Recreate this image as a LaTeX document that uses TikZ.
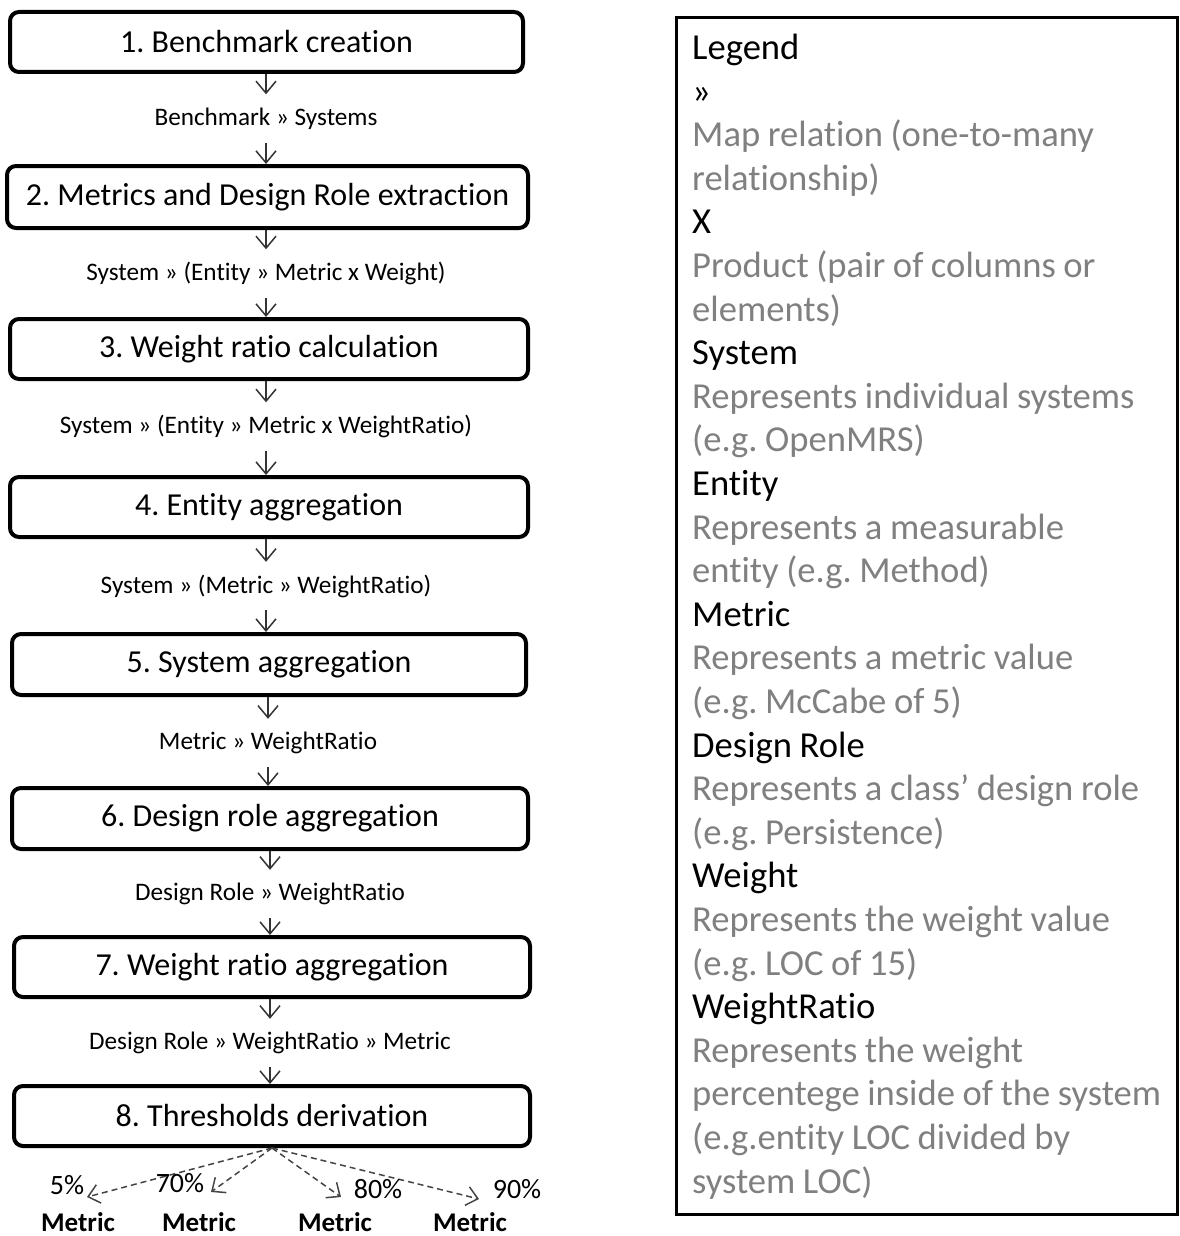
\documentclass[tikz,border=0pt]{standalone}
\usepackage{fontspec}
\setmainfont{Carlito}[Ligatures=NoCommon]
\frenchspacing
\usetikzlibrary{arrows.meta}
\definecolor{legendgray}{HTML}{808080}
\definecolor{arrowgray}{HTML}{333333}
\definecolor{dashgray}{HTML}{444444}
\begin{document}
\begin{tikzpicture}[x=1pt,y=-1pt,
  stepbox/.style={draw=black, line width=4pt, rounded corners=9pt, inner sep=0pt,
    minimum height=60pt, font=\fontsize{32}{38}\selectfont},
  flowlabel/.style={inner sep=0pt, minimum height=48pt, font=\fontsize{25.2}{30}\selectfont},
  flowarrow/.style={draw=arrowgray, line width=1.5pt, -{Straight Barb[length=12pt,width=20pt]}},
  dasharrow/.style={draw=dashgray, line width=1.5pt, dash pattern=on 6pt off 4pt,
    -{Straight Barb[length=11pt,width=19pt]}},
  pct/.style={inner sep=0pt, font=\fontsize{28}{32}\selectfont},
  metric/.style={inner sep=0pt, font=\fontsize{27}{32}\selectfont\bfseries},
  legendtext/.style={inner sep=0pt, align=left, text width=480pt,
    font=\fontsize{36.6}{43.6}\selectfont}
]
\useasboundingbox (0,0) rectangle (1179,1236);

% process steps
\node[stepbox, minimum width=513pt] (b1) at (266.5,42)  {1. Benchmark creation};
\node[stepbox, minimum width=521pt, minimum height=62pt] (b2) at (267.5,197) {2. Metrics and Design Role extraction};
\node[stepbox, minimum width=518pt] (b3) at (269,349)   {3. Weight ratio calculation};
\node[stepbox, minimum width=518pt] (b4) at (269,507)   {4. Entity aggregation};
\node[stepbox, minimum width=514pt, minimum height=61pt] (b5) at (269,664.5) {5. System aggregation};
\node[stepbox, minimum width=516pt, minimum height=61pt] (b6) at (270,818.5) {6. Design role aggregation};
\node[stepbox, minimum width=516pt] (b7) at (272,967)   {7. Weight ratio aggregation};
\node[stepbox, minimum width=516pt] (b8) at (272,1116)  {8. Thresholds derivation};

% data passed between steps
\node[flowlabel] (l1) at (266,118.5) {Benchmark » Systems};
\node[flowlabel] (l2) at (266,273.5) {System » (Entity » Metric x Weight)};
\node[flowlabel] (l3) at (266,426.5) {System » (Entity » Metric x WeightRatio)};
\node[flowlabel] (l4) at (266,586)   {System » (Metric » WeightRatio)};
\node[flowlabel] (l5) at (268,743)   {Metric » WeightRatio};
\node[flowlabel] (l6) at (270,894)   {Design Role » WeightRatio};
\node[flowlabel] (l7) at (270,1043)  {Design Role » WeightRatio » Metric};

\foreach \s/\l/\n in {b1/l1/b2, b2/l2/b3, b3/l3/b4, b4/l4/b5, b5/l5/b6, b6/l6/b7, b7/l7/b8}{
  \draw[flowarrow] (\l.north |- \s.south) -- (\l.north);
  \draw[flowarrow] (\l.south) -- (\l.south |- \n.north);
}

% derived thresholds
\coordinate (t5)  at (87,1197);
\coordinate (t70) at (211,1192);
\coordinate (t80) at (341,1197);
\coordinate (t90) at (479,1199);
\foreach \t in {t5,t70,t80,t90}{
  \draw[dasharrow] (b8.south) -- (\t);
}
\node[pct] (p5)  at (67,1185)  {5\%};
\node[pct] (p70) at (180,1183) {70\%};
\node[pct] (p80) at (378,1189) {80\%};
\node[pct] (p90) at (517,1189) {90\%};
\node[metric] (m5)  at (78,1222)  {Metric};
\node[metric] (m70) at (199,1222) {Metric};
\node[metric] (m80) at (335,1222) {Metric};
\node[metric] (m90) at (470,1222) {Metric};

% legend
\draw[line width=3pt] (676.5,17.5) rectangle (1177.5,1214.5);
\node[legendtext, anchor=base west] (legend) at (692,59.5) {\raggedright\spaceskip=7.6pt\relax
Legend\\
»\\
\textcolor{legendgray}{Map relation (one-to-many}\\
\textcolor{legendgray}{relationship)}\\
X\\
\textcolor{legendgray}{Product (pair of columns or}\\
\textcolor{legendgray}{elements)}\\
System\\
\textcolor{legendgray}{Represents individual systems}\\
\textcolor{legendgray}{(e.g. OpenMRS)}\\
Entity\\
\textcolor{legendgray}{Represents a measurable}\\
\textcolor{legendgray}{entity (e.g. Method)}\\
Metric\\
\textcolor{legendgray}{Represents a metric value}\\
\textcolor{legendgray}{(e.g. McCabe of 5)}\\
Design Role\\
\textcolor{legendgray}{Represents a class’ design role}\\
\textcolor{legendgray}{(e.g. Persistence)}\\
Weight\\
\textcolor{legendgray}{Represents the weight value}\\
\textcolor{legendgray}{(e.g. LOC of 15)}\\
WeightRatio\\
\textcolor{legendgray}{Represents the weight}\\
\textcolor{legendgray}{percentege inside of the system}\\
\textcolor{legendgray}{(e.g.entity LOC divided by}\\
\textcolor{legendgray}{system LOC)}};
\end{tikzpicture}
\end{document}
